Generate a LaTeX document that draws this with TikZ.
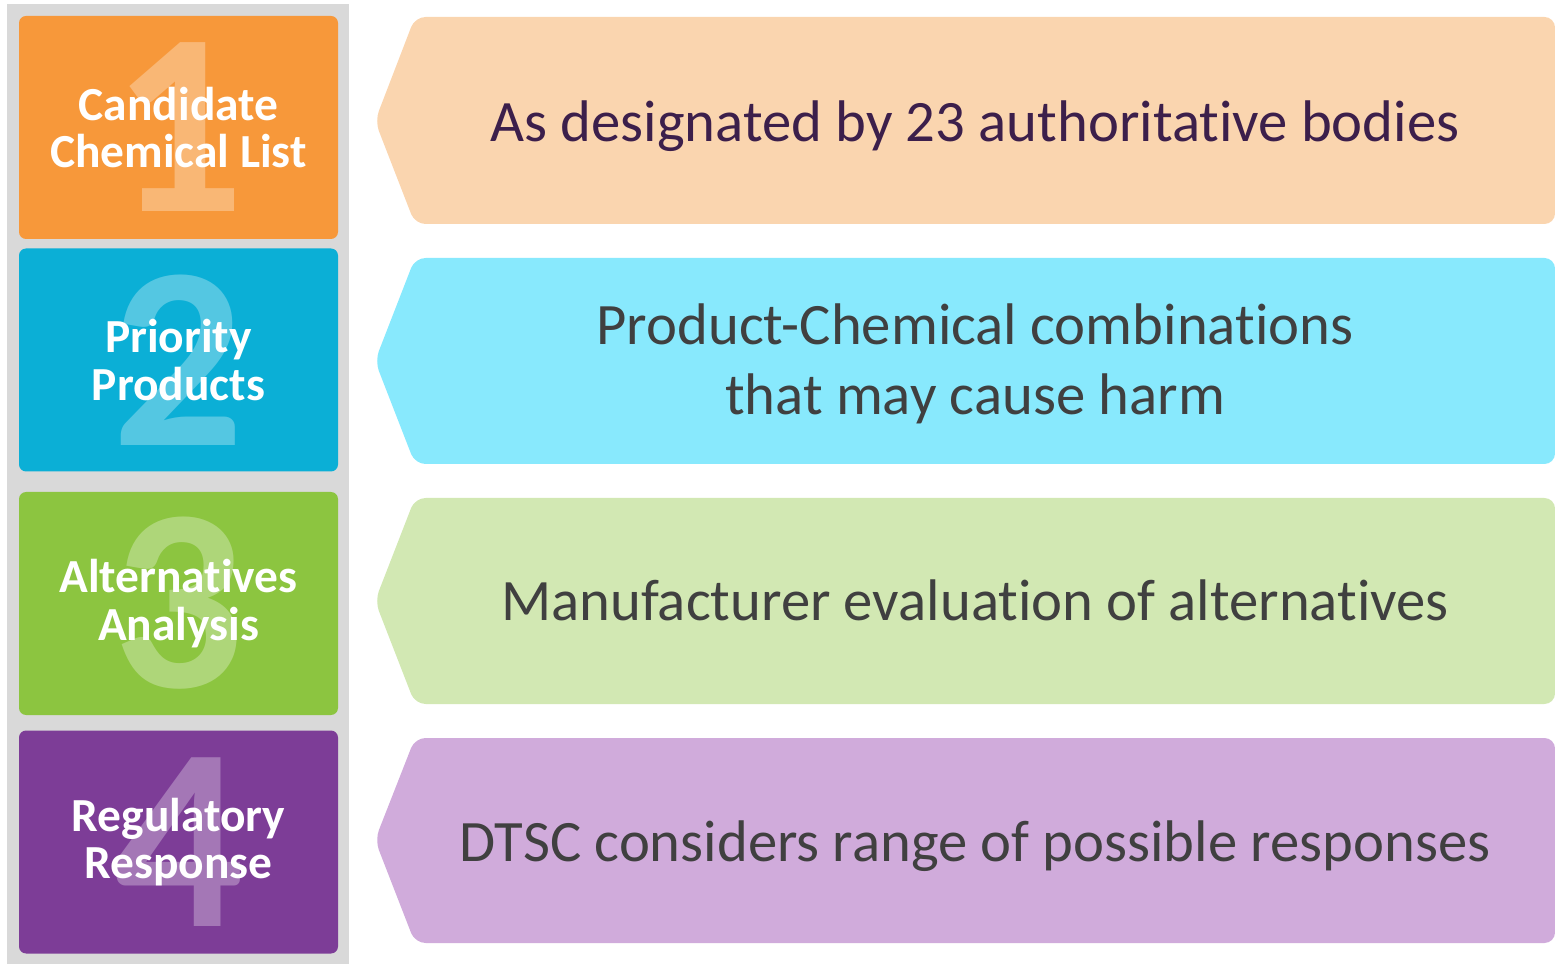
\documentclass[tikz,border=0pt]{standalone}
\usepackage{fontspec}
\setmainfont{Carlito}[Ligatures=NoCommon]

\definecolor{panelgray}{HTML}{D9D9D9}
\definecolor{boxorange}{HTML}{F7983A}
\definecolor{boxblue}{HTML}{0BAFD6}
\definecolor{boxgreen}{HTML}{8CC540}
\definecolor{boxpurple}{HTML}{7D3D97}
\definecolor{tagorange}{HTML}{FAD5AF}
\definecolor{tagblue}{HTML}{88E9FD}
\definecolor{taggreen}{HTML}{D2E8B3}
\definecolor{tagpurple}{HTML}{D0ABDB}
\definecolor{txtpurple}{HTML}{3C1F4B}
\definecolor{txtgray}{HTML}{404040}

\tikzset{
  stepbox/.style={fill=#1, rounded corners=4pt, minimum width=6.38cm, minimum height=4.46cm,
    inner sep=0pt, text=white, align=center, font=\bfseries\fontsize{27}{27}\selectfont},
  bignum/.style={text=white, text opacity=0.3, inner sep=0pt, font=\bfseries\fontsize{148}{148}\selectfont},
  tag/.style={fill=#1, rounded corners=6pt},
  tagtext/.style={text=txtgray, align=center, font=\fontsize{33.4}{40}\selectfont},
}

\begin{document}
\begin{tikzpicture}
\useasboundingbox (0,0) rectangle (31.1,19.28);
\fill[panelgray] (0.14,0) rectangle (6.98,19.2);

% steps
\node (list) [stepbox=boxorange] at (3.57,16.73) {Candidate\\Chemical List};
\node (n1) [bignum] at (list) {1};
\node (prod) [stepbox=boxblue] at (3.57,12.08) {Priority\\Products};
\node (n2) [bignum] at (prod) {2};
\node (alt) [stepbox=boxgreen] at (3.57,7.21) {Alternatives\\Analysis};
\node (n3) [bignum] at (alt) {3};
\node (resp) [stepbox=boxpurple] at (3.57,2.44) {Regulatory\\Response};
\node (n4) [bignum] at (resp) {4};

% descriptions
\fill[tag=tagorange] (7.5,16.86) -- (8.3,18.94) -- (31.1,18.94) -- (31.1,14.8) -- (8.3,14.8) -- cycle;
\node (listtxt) [tagtext, text=txtpurple, anchor=base] at (19.5,16.44) {As designated by 23 authoritative bodies};

\fill[tag=tagblue] (7.5,12.06) -- (8.3,14.12) -- (31.1,14.12) -- (31.1,10.0) -- (8.3,10.0) -- cycle;
\node (prodtxt) [tagtext] at (19.5,12.0) {Product-Chemical combinations\\that may cause harm};

\fill[tag=taggreen] (7.5,7.26) -- (8.3,9.32) -- (31.1,9.32) -- (31.1,5.2) -- (8.3,5.2) -- cycle;
\node (alttxt) [tagtext, anchor=base] at (19.5,6.86) {Manufacturer evaluation of alternatives};

\fill[tag=tagpurple] (7.5,2.48) -- (8.3,4.52) -- (31.1,4.52) -- (31.1,0.42) -- (8.3,0.42) -- cycle;
\node (resptxt) [tagtext, anchor=base] at (19.5,2.06) {DTSC considers range of possible responses};
\end{tikzpicture}
\end{document}
